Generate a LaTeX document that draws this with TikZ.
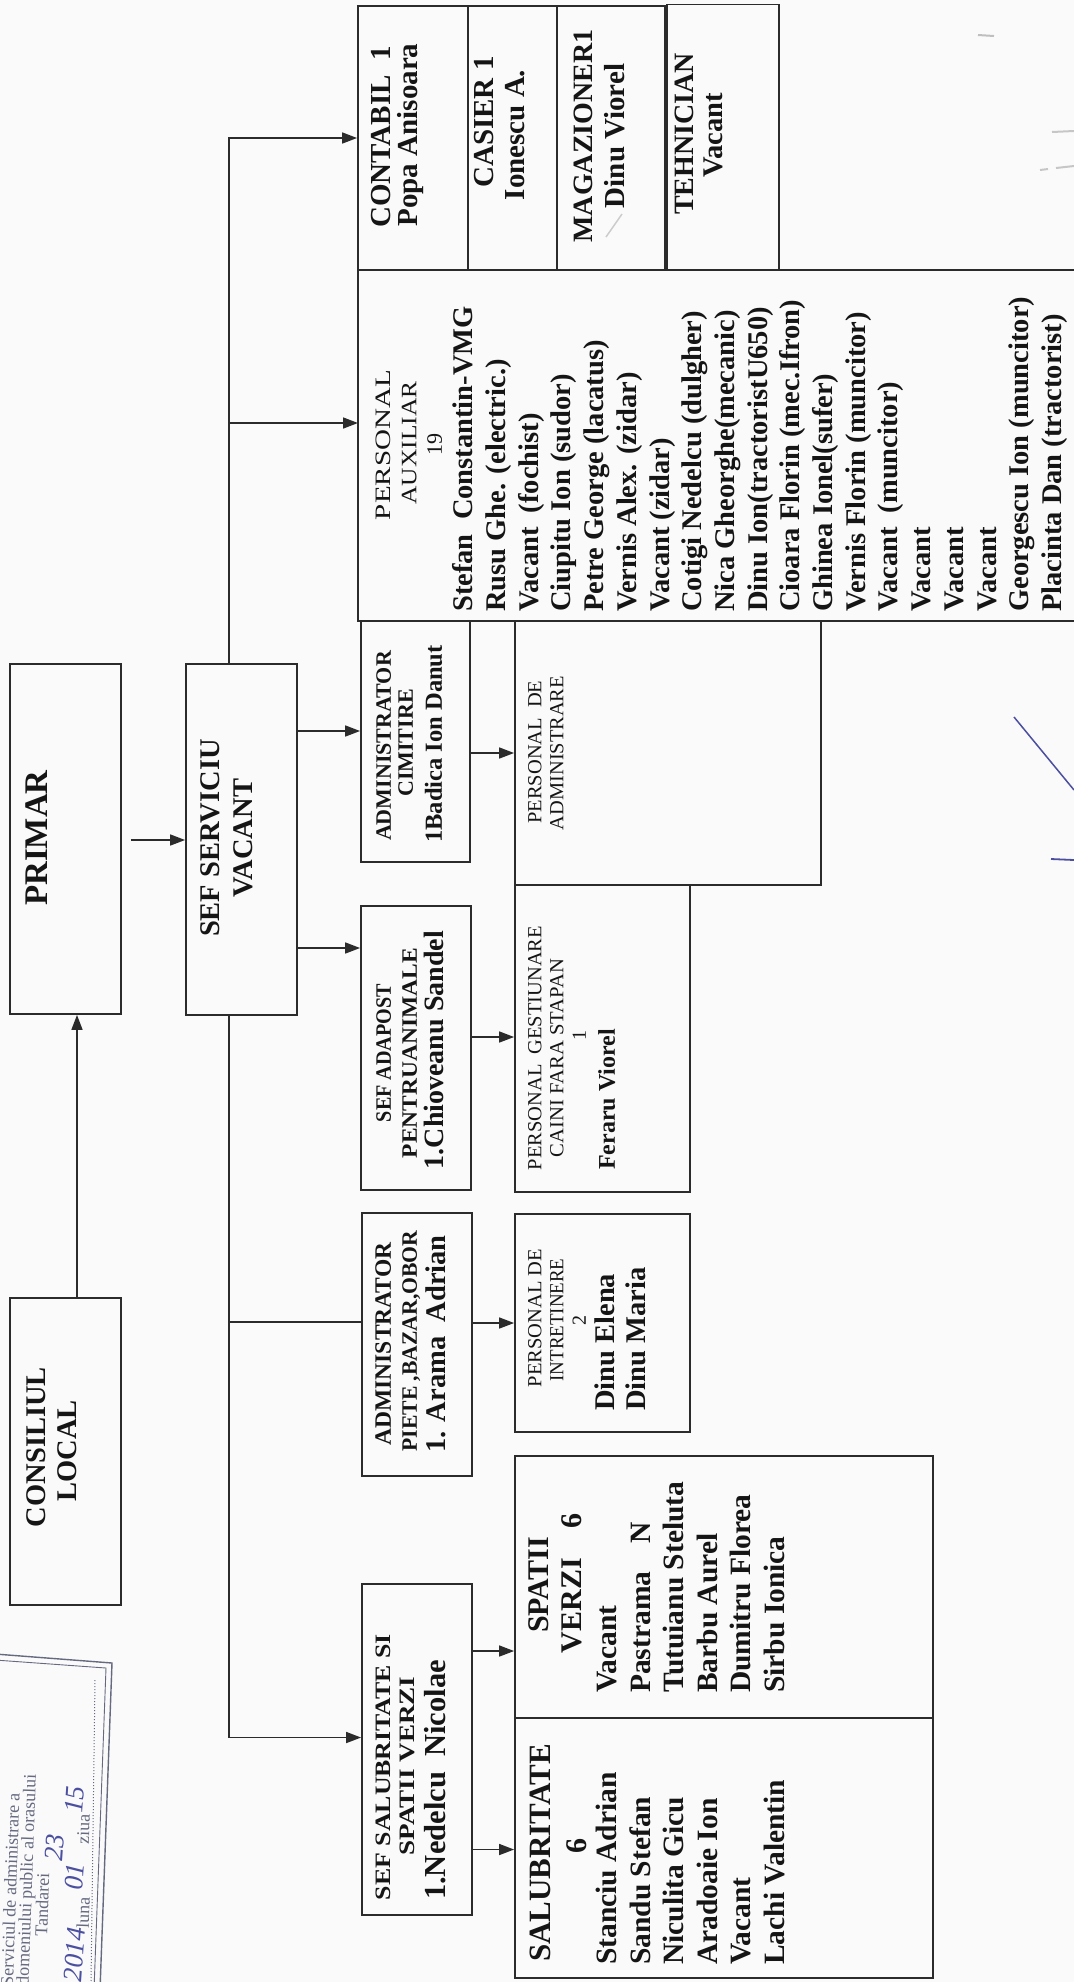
\documentclass[tikz,border=0pt]{standalone}
\usepackage{fontspec}
\setmainfont{Liberation Serif}
\usepackage{graphicx}
\usetikzlibrary{arrows.meta}
\definecolor{linec}{HTML}{2B2B2B}
\definecolor{txtc}{HTML}{151515}
\definecolor{bgc}{HTML}{FAFAFA}
\definecolor{stampc}{HTML}{666A80}
\definecolor{penc}{HTML}{4B4FA0}
\newcommand\fs[1]{\fontsize{#1}{#1}\selectfont}
\newcommand\RB[2]{\resizebox{#1pt}{\height}{#2}}
\begin{document}
\begin{tikzpicture}[x=1pt,y=-1pt,
  box/.style 2 args={draw=linec,line width=1.8pt,inner sep=0pt,minimum width=#1pt,minimum height=#2pt},
  arr/.style={draw=linec,line width=1.6pt,-{Triangle[length=15pt,width=11pt]}},
  ln/.style={draw=linec,line width=1.6pt},
  tc/.style={rotate=90,inner sep=0pt,anchor=mid,text=txtc},
  tl/.style={rotate=90,inner sep=0pt,anchor=mid west,text=txtc},
  fb/.style={font=\fs{#1}\bfseries},
  fr/.style={font=\fs{#1}},
  stx/.style={rotate=88,inner sep=0pt,anchor=mid,font=\fs{18},text=stampc},
  hw/.style={rotate=86,inner sep=0pt,anchor=mid,font=\fs{27}\itshape,text=penc}]
\fill[bgc] (0,0) rectangle (1074,1982);
\useasboundingbox (0,0) rectangle (1074,1982);

% ---------- boxes ----------
\node[box={111}{307}] (cl) at (65.5,1451.5) {};
\node[box={111}{350}] (pr) at (65.5,839) {};
\node[box={111}{351}] (sef) at (241.5,839.5) {};
\node[box={110}{264}] (ct) at (413,138) {};
\node[box={89}{264}] (cs) at (512.5,138) {};
\node[box={108}{264}] (mg) at (611,138) {};
\node[box={112}{265}] (th) at (723,137) {};
\draw[draw=linec,line width=1.8pt] (1080,270) -- (358,270) -- (358,621) -- (1080,621);
\coordinate (auxL) at (358,445);
\node[box={109}{241}] (ac) at (415.5,741.5) {};
\node[box={306}{264}] (pa) at (668,753) {};
\node[box={110}{284}] (ad) at (416,1048) {};
\node[box={175}{307}] (pg) at (602.5,1038.5) {};
\node[box={110}{263}] (pi) at (417,1344.5) {};
\node[box={175}{218}] (pe) at (602.5,1323) {};
\node[box={110}{331}] (ss) at (417,1749.5) {};
\node[box={418}{262}] (sv) at (724,1587) {};
\node[box={418}{260}] (sb) at (724,1848) {};

% ---------- connectors ----------
\coordinate (v0) at (77,0);
\draw[arr] (cl.north -| v0) -- (pr.south -| v0);
\coordinate (r0) at (0,840);
\draw[arr] ([xshift=9pt]pr.east |- r0) -- (sef.west |- r0);
\coordinate (t1) at (229,138);
\coordinate (t2) at (229,423);
\draw[arr] (sef.north -| t1) -- (t1) -- (t1 -| ct.west);
\draw[arr] (t2) -- (t2 -| auxL);
\coordinate (b1) at (229,1322);
\coordinate (b2) at (229,1737.5);
\draw[arr] (sef.south -| b2) -- (b2) -- (b2 -| ss.west);
\draw[ln] (b1) -- (b1 -| pi.west);
\coordinate (r1) at (0,731);
\coordinate (r2) at (0,948);
\draw[arr] (sef.east |- r1) -- (ac.west |- r1);
\draw[arr] (sef.east |- r2) -- (ad.west |- r2);
\coordinate (r3) at (0,753);
\coordinate (r4) at (0,1037);
\coordinate (r5) at (0,1323);
\coordinate (r6) at (0,1651);
\coordinate (r7) at (0,1849.5);
\draw[arr] (ac.east |- r3) -- (pa.west |- r3);
\draw[arr] (ad.east |- r4) -- (pg.west |- r4);
\draw[arr] (pi.east |- r5) -- (pe.west |- r5);
\draw[arr] (ss.east |- r6) -- (sv.west |- r6);
\draw[arr] (ss.east |- r7) -- (sb.west |- r7);

% ---------- texts ----------
\begin{scope}[xshift=2.5pt]
\node[tc,fb=28.5] (tcl1) at (41,1447) {CONSILIUL};
\node[tc,fb=28.5] (tcl2) at (72,1451) {LOCAL};
\node[tc,fb=33] (tpr) at (43,838) {PRIMAR};
\node[tc,fb=28.5] (tsef1) at (215,838) {SEF SERVICIU};
\node[tc,fb=28.5] (tsef2) at (248,838) {VACANT};

\node[tc,fb=29] (tct1) at (386,137) {CONTABIL\ \ 1};
\node[tc,fb=29] (tct2) at (413,135) {Popa Anisoara};
\node[tc,fb=29] (tcs1) at (489,122) {CASIER 1};
\node[tc,fb=29] (tcs2) at (520,135) {Ionescu A.};
\node[tc,fb=28] (tmg1) at (588,136) {MAGAZIONER1};
\node[tc,fb=29] (tmg2) at (620,136) {Dinu Viorel};
\node[tc,fb=28] (tth1) at (689,134) {TEHNICIAN};
\node[tc,fb=28.5] (tth2) at (718,135) {Vacant};

\node[tc,fr=22] (tax1) at (386,445) {\RB{150}{PERSONAL}};
\node[tc,fr=22] (tax2) at (411.5,443) {\RB{123}{AUXILIAR}};
\node[tc,fr=22] (tax3) at (437,444) {19};
\foreach \t [count=\i from 0] in {Stefan\ \ Constantin-VMG, Rusu Ghe. (electric.), Vacant\ \ (fochist), Ciupitu Ion (sudor), Petre George (lacatus), Vernis Alex. (zidar), Vacant (zidar), Cotigi Nedelcu (dulgher), Nica Gheorghe(mecanic), Dinu Ion(tractoristU650), Cioara Florin (mec.Ifron), Ghinea Ionel(sufer), Vernis Florin (muncitor), Vacant\ \ (muncitor), Vacant, Vacant, Vacant, Georgescu Ion (muncitor), Placinta Dan (tractorist)}
  \node[tl,fb=28.5] (aux\i) at (468+32.7*\i,612) {\t};

\node[tc,fb=22] (tac1) at (386,746) {ADMINISTRATOR};
\node[tc,fb=22] (tac2) at (408,743) {CIMITIRE};
\node[tc,fb=24.5] (tac3) at (437,744) {1Badica Ion Danut};

\node[tc,fr=20] (tpa1) at (536.5,752) {\RB{143}{PERSONAL\ \ DE}};
\node[tc,fr=20] (tpa2) at (558.5,753) {\RB{154}{ADMINISTRARE}};

\node[tc,fb=22] (tad1) at (386,1053) {\RB{138}{SEF ADAPOST}};
\node[tc,fb=22] (tad2) at (412,1053) {\RB{210}{PENTRUANIMALE}};
\node[tc,fb=28] (tad3) at (439,1050) {1.Chioveanu Sandel};

\node[tc,fr=20] (tpg1) at (536.5,1048) {\RB{244}{PERSONAL\ \ GESTIUNARE}};
\node[tc,fr=20] (tpg2) at (558.5,1058) {\RB{198}{CAINI FARA STAPAN}};
\node[tc,fr=20] (tpg3) at (581,1035) {1};
\node[tl,fb=24] (tpg4) at (610,1170) {Feraru Viorel};

\node[tc,fb=23.5] (tpi1) at (386,1344) {ADMINISTRATOR};
\node[tc,fb=22] (tpi2) at (412,1341) {\RB{221}{PIETE ,BAZAR,OBOR}};
\node[tc,fb=28.5] (tpi3) at (441,1344) {1. Arama\ \ Adrian};

\node[tc,fr=20] (tpe1) at (536.5,1318) {\RB{138}{PERSONAL DE}};
\node[tc,fr=20] (tpe2) at (558.5,1320) {\RB{123}{INTRETINERE}};
\node[tc,fr=20] (tpe3) at (581,1320) {2};
\node[tl,fb=28.5] (tpe4) at (610,1411) {Dinu Elena};
\node[tl,fb=28.5] (tpe5) at (641,1411) {Dinu Maria};

\node[tc,fb=22] (tss1) at (386,1767) {\RB{266}{SEF SALUBRITATE SI}};
\node[tc,fb=22] (tss2) at (410,1766) {\RB{179}{SPATII VERZI}};
\node[tc,fb=30.5] (tss3) at (441,1780) {1.Nedelcu\ \ Nicolae};

\node[tc,fb=30] (tsv1) at (544,1585) {SPATII};
\node[tc,fb=30] (tsv2) at (577,1583) {VERZI\hspace{30pt}6};
\foreach \t [count=\i from 0] in {Vacant, Pastrama\hspace{28pt}N, Tutuianu Steluta, Barbu Aurel, Dumitru Florea, Sirbu Ionica}
  \node[tl,fb=29.5] (sv\i) at (612+33.5*\i,1693) {\t};

\node[tc,fb=31] (tsb1) at (546,1853) {SALUBRITATE};
\node[tc,fb=30] (tsb2) at (582,1846) {6};
\foreach \t [count=\i from 0] in {Stanciu Adrian, Sandu Stefan, Niculita Gicu, Aradoaie Ion, Vacant, Lachi Valentin}
  \node[tl,fb=29.5] (sb\i) at (612+33.5*\i,1965) {\t};
\end{scope}

% ---------- stamp ----------
\draw[stampc,line width=1.4pt] (-5,1654) -- (112,1663) -- (100,1990);
\draw[stampc,line width=0.9pt] (-5,1660) -- (106,1668) -- (94,1990);
\node[stx] (st1) at (14,1890) {Serviciul de administrare a};
\node[stx] (st2) at (30,1880) {domeniului public al orasului};
\node[stx] (st3) at (46,1905) {Tandarei};
\node[hw] (st4) at (61,1848) {23};
\draw[stampc,dotted,line width=1pt] (95,1680) -- (91,1982);
\node[stx] (st5) at (87,1913) {luna};
\node[stx] (st6) at (87,1829) {ziua};
\node[hw] (st7) at (81,1955) {2014};
\node[hw] (st8) at (81,1877) {01};
\node[hw] (st9) at (81,1800) {15};

% ---------- pen marks and specks ----------
\draw[penc,line width=1.5pt] (1014,717) -- (1074,790);
\draw[penc,line width=1.8pt] (1051,859) -- (1074,860);
\draw[gray!50,line width=2pt] (978,35) -- (994,36);
\draw[gray!45,line width=2pt] (1052,132) -- (1074,131);
\draw[gray!45,line width=2pt] (1040,170) -- (1048,169) (1056,168) -- (1074,166);
\draw[gray!40,line width=1.5pt] (606,237) -- (622,214);
\end{tikzpicture}
\end{document}
